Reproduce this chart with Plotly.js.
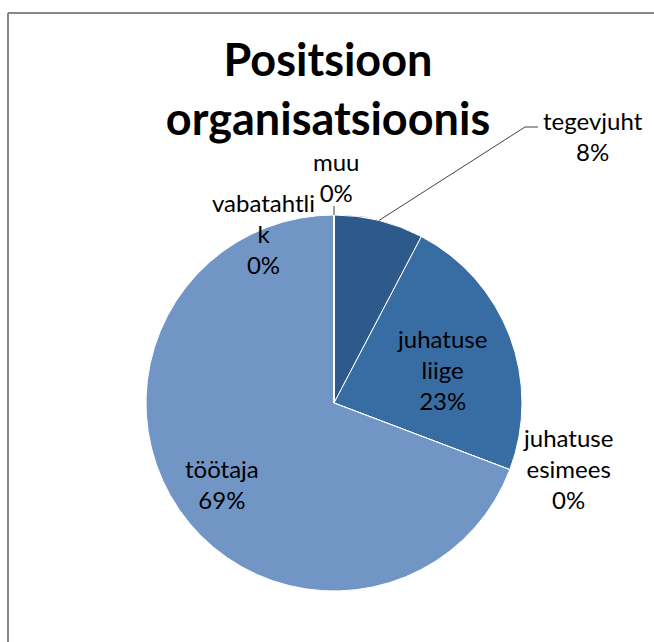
<!DOCTYPE html>
<html>
<head>
<meta charset="utf-8">
<script src="https://cdn.plot.ly/plotly-3.0.1.min.js"></script>
<style>html,body{margin:0;padding:0;background:#fff;}#chart{width:654px;height:642px;}</style>
</head>
<body>
<div id="chart"></div>
<script>
// Data
const categories = ["tegevjuht", "juhatuse liige", "juhatuse esimees", "töötaja", "vabatahtlik", "muu"];
const counts = [1, 3, 0, 9, 0, 0];
const sliceColors = ["#2E5A8B", "#386DA4", "#4A7DB5", "#7196C6", "#8AAAD2", "#A5BEDD"];
const labelTexts = ["tegevjuht<br>8%", "juhatuse<br>liige<br>23%", "juhatuse<br>esimees<br>0%", "töötaja<br>69%", "vabatahtli<br>k<br>0%", "muu<br>0%"];
const titleText = "Positsioon<br>organisatsioonis";

// Layout geometry (pixels)
const W = 654, H = 642;
const cx = 334, cy = 403, R = 188;
const labelPos = [[593, 136], [442, 369], [568, 468], [222, 484], [263, 234], [336, 177]];

const px = x => x / W;
const py = y => 1 - y / H;

// mid-angle of a slice (clockwise from 12 o'clock)
const total = counts.reduce((a, b) => a + b, 0);
function midAngle(i) {
  let before = 0;
  for (let k = 0; k < i; k++) before += counts[k];
  return ((before + counts[i] / 2) / total) * 2 * Math.PI;
}
function edgePoint(i, r) {
  const a = midAngle(i);
  return [cx + r * Math.sin(a), cy - r * Math.cos(a)];
}

const trace = {
  type: "pie",
  labels: categories,
  values: counts,
  sort: false,
  direction: "clockwise",
  rotation: 0,
  textinfo: "none",
  hoverinfo: "label+percent",
  marker: { colors: sliceColors, line: { color: "#ffffff", width: 1 } },
  domain: { x: [px(cx - R), px(cx + R)], y: [py(cy + R), py(cy - R)] },
  showlegend: false
};

const annotations = labelTexts.map((t, i) => ({
  text: t,
  xref: "paper", yref: "paper",
  x: px(labelPos[i][0]), y: py(labelPos[i][1]),
  xanchor: "center", yanchor: "middle",
  showarrow: false,
  align: "center",
  font: { family: "Lato, 'Open Sans', sans-serif", size: 24, color: "#000" }
}));

// leader lines and frame
const p0 = edgePoint(0, R);
const p5 = edgePoint(5, R);
const shapes = [
  { type: "line", xref: "paper", yref: "paper", x0: px(8), x1: px(W + 20), y0: py(13), y1: py(13),
    line: { color: "#878787", width: 2 } },
  { type: "line", xref: "paper", yref: "paper", x0: px(8), x1: px(8), y0: py(13), y1: py(H + 20),
    line: { color: "#878787", width: 2 } },
  { type: "path", xref: "paper", yref: "paper",
    path: `M ${px(p0[0])} ${py(p0[1])} L ${px(525)} ${py(127)} L ${px(538)} ${py(127)}`,
    line: { color: "#404040", width: 1 } },
  { type: "line", xref: "paper", yref: "paper",
    x0: px(p5[0]), y0: py(p5[1]), x1: px(p5[0]), y1: py(206),
    line: { color: "#404040", width: 1 } }
];

const layout = {
  width: W, height: H,
  margin: { l: 0, r: 0, t: 0, b: 0 },
  paper_bgcolor: "#fff",
  title: {
    text: titleText,
    x: px(328), xanchor: "center", xref: "container",
    y: py(76), yanchor: "top", yref: "container",
    font: { family: "Lato, 'Open Sans', sans-serif", size: 45, weight: 700, color: "#000" }
  },
  annotations: annotations,
  shapes: shapes
};

Plotly.newPlot("chart", [trace], layout, { displayModeBar: false, staticPlot: true });
</script>
</body>
</html>
